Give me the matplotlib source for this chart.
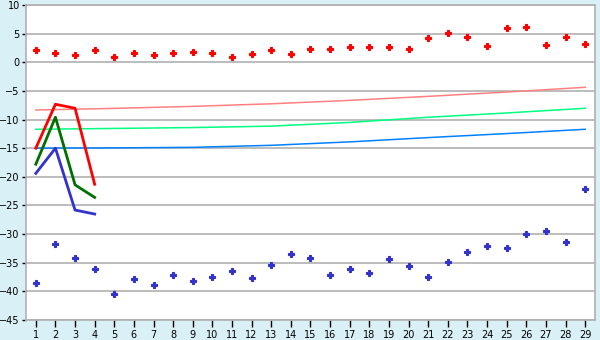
import matplotlib
matplotlib.use("Agg")
import matplotlib.pyplot as plt

x_days = list(range(1, 30))
red_points = [2.1, 1.57, 1.2, 2.1, 0.87, 1.57, 1.2, 1.57, 1.75, 1.57,
              0.87, 1.4, 2.1, 1.4, 2.27, 2.27, 2.62, 2.62, 2.62, 2.27,
              4.19, 5.06, 4.36, 2.79, 5.93, 6.1, 2.97, 4.36, 3.14]
blue_points = [-38.6, -31.8, -34.2, -36.1, -40.5, -37.9, -38.9, -37.2, -38.2, -37.5,
               -36.5, -37.7, -35.4, -33.4, -34.2, -37.2, -36.1, -36.8, -34.4, -35.6,
               -37.5, -34.9, -33.2, -32.1, -32.5, -29.9, -29.5, -31.4, -22.2]

x_short = [1, 2, 3, 4]
red_line = [-15.0, -7.33, -8.03, -21.3]
green_line = [-17.8, -9.6, -21.4, -23.6]
blue_line = [-19.4, -15.0, -25.8, -26.5]

x_trend = [1, 5, 9, 13, 17, 21, 25, 29]
pink_trend = [-8.33, -8.05, -7.7, -7.25, -6.65, -5.95, -5.2, -4.37]
lgreen_trend = [-11.7, -11.55, -11.4, -11.15, -10.5, -9.6, -8.85, -8.03]
lblue_trend = [-15.0, -14.95, -14.85, -14.5, -13.9, -13.15, -12.45, -11.7]

y_ticks = list(range(-45, 11, 5))

fig = plt.figure(figsize=(6, 3.4), dpi=100)
fig.patch.set_facecolor("#daf0f7")
ax = fig.add_axes([26/600, 1 - 320/340, (595-26)/600, (320-5)/340])
ax.set_facecolor("white")

ax.plot(x_trend, pink_trend, color="#ff8080", lw=1.1, zorder=2)
ax.plot(x_trend, lgreen_trend, color="#00ff80", lw=1.1, zorder=2)
ax.plot(x_trend, lblue_trend, color="#0080ff", lw=1.1, zorder=2)

ax.plot(x_short, red_line, color="#ff0000", lw=2, zorder=3)
ax.plot(x_short, green_line, color="#007000", lw=2, zorder=3)
ax.plot(x_short, blue_line, color="#3333cc", lw=2, zorder=3)

ax.plot(x_days, red_points, ls="none", marker="P", ms=4.2, color="#ff0000",
        mec="#ff0000", mew=0.8, zorder=4)
ax.plot(x_days, blue_points, ls="none", marker="P", ms=4.2, color="#3333cc",
        mec="#3333cc", mew=0.8, zorder=4)

ax.set_xlim(0.5, 29.5)
ax.set_ylim(-45, 10)
ax.set_xticks(x_days)
ax.set_yticks(y_ticks)
ax.set_yticklabels([str(v).replace("-", "\u2212") for v in y_ticks])
ax.yaxis.grid(True, color="#b0b0b0", lw=1.2)
ax.set_axisbelow(True)
for s in ax.spines.values():
    s.set_color("#b0b0b0")
    s.set_linewidth(1.2)
ax.tick_params(axis="both", labelsize=7, colors="black", length=3, width=1, pad=1.5)
ax.tick_params(axis="x", length=5, pad=2)

fig.savefig("out.png", dpi=100, facecolor=fig.get_facecolor())
